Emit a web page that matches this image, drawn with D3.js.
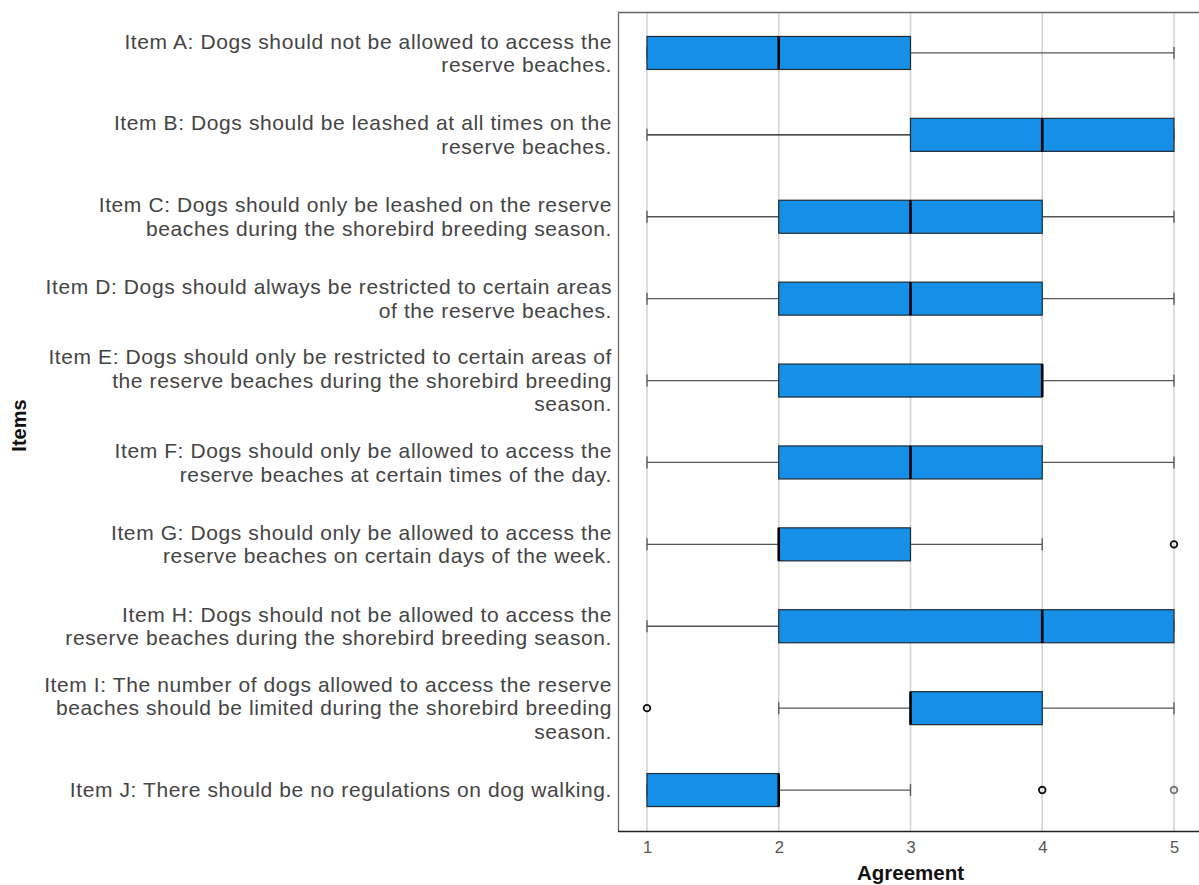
<!DOCTYPE html>
<html><head><meta charset="utf-8">
<script src="https://cdn.jsdelivr.net/npm/d3@7"></script>
<style>body{margin:0;background:#fff}svg{display:block}</style>
</head><body>
<script>
const items = [
  ["Item A: Dogs should not be allowed to access the","reserve beaches."],
  ["Item B: Dogs should be leashed at all times on the","reserve beaches."],
  ["Item C: Dogs should only be leashed on the reserve","beaches during the shorebird breeding season."],
  ["Item D: Dogs should always be restricted to certain areas","of the reserve beaches."],
  ["Item E: Dogs should only be restricted to certain areas of","the reserve beaches during the shorebird breeding","season."],
  ["Item F: Dogs should only be allowed to access the","reserve beaches at certain times of the day."],
  ["Item G: Dogs should only be allowed to access the","reserve beaches on certain days of the week."],
  ["Item H: Dogs should not be allowed to access the","reserve beaches during the shorebird breeding season."],
  ["Item I: The number of dogs allowed to access the reserve","beaches should be limited during the shorebird breeding","season."],
  ["Item J: There should be no regulations on dog walking."]
];
const whiskerLow  = [1,1,1,1,1,1,1,1,2,1];
const q1          = [1,3,2,2,2,2,2,2,3,1];
const medians     = [2,4,3,3,4,3,2,4,3,2];
const q3          = [3,5,4,4,4,4,3,5,4,2];
const whiskerHigh = [5,5,5,5,5,5,4,5,5,3];
const outliers    = [[],[],[],[],[],[],[5],[],[1],[4,5]];
const ticks = [1,2,3,4,5];

const W=1199,H=885;
const pLeft=618, pTop=12, pBottom=831, pRight=1199;
const svg=d3.select("body").append("svg").attr("width",W).attr("height",H);
const x=d3.scaleLinear().domain([0.78,5.5]).range([pLeft, pLeft+(5.5-0.78)*131.75]);
const y=d3.scaleBand().domain(d3.range(items.length)).range([pTop,pBottom]);

svg.append("g").selectAll("line").data(ticks).join("line")
  .attr("x1",d=>x(d)).attr("x2",d=>x(d)).attr("y1",pTop).attr("y2",pBottom)
  .attr("stroke","#d4d4d4").attr("stroke-width",1.6);

svg.append("path").attr("d",`M${pRight},${pTop+0.5}H${pLeft+0.5}V${pBottom}`).attr("fill","none").attr("stroke","#666").attr("stroke-width",1.3);
const xAxis=d3.axisBottom(x).tickValues(ticks).tickSize(0).tickPadding(10).tickFormat(d3.format("d"));
const ga=svg.append("g").attr("transform",`translate(0,${pBottom})`).call(xAxis);
ga.select(".domain").attr("d",`M${pLeft},0.5H${pRight}`).attr("stroke","#222").attr("stroke-width",1.5);
ga.selectAll("text").attr("font-family","Liberation Sans, Arial, sans-serif").attr("font-size",16.5).attr("fill","#555");

const bh=33, cap=12;
const g=svg.append("g");
items.forEach((lab,i)=>{
  const cy=y(i)+y.bandwidth()/2;
  const wcol = i===1 ? "#111" : "#555";
  g.append("line").attr("x1",x(whiskerLow[i])).attr("x2",x(q1[i])).attr("y1",cy).attr("y2",cy).attr("stroke",wcol).attr("stroke-width",1.3);
  g.append("line").attr("x1",x(q3[i])).attr("x2",x(whiskerHigh[i])).attr("y1",cy).attr("y2",cy).attr("stroke","#555").attr("stroke-width",1.3);
  [whiskerLow[i],whiskerHigh[i]].forEach(v=>{
    g.append("line").attr("x1",x(v)).attr("x2",x(v)).attr("y1",cy-cap/2).attr("y2",cy+cap/2).attr("stroke","#555").attr("stroke-width",1.3);
  });
  g.append("rect").attr("x",x(q1[i])).attr("y",cy-bh/2).attr("width",x(q3[i])-x(q1[i])).attr("height",bh)
    .attr("fill","#1590e6").attr("stroke","#1f2a33").attr("stroke-width",1.2);
  g.append("line").attr("x1",x(medians[i])).attr("x2",x(medians[i])).attr("y1",cy-bh/2).attr("y2",cy+bh/2).attr("stroke","#000").attr("stroke-width",2.6);
  outliers[i].forEach((v,k)=>{
    g.append("circle").attr("cx",x(v)).attr("cy",cy).attr("r",3.3).attr("fill","none")
      .attr("stroke", (i===9 && k===1) ? "#777" : "#111").attr("stroke-width",1.8);
  });
  const lh=23.5;
  lab.forEach((s,j)=>{
    svg.append("text").attr("text-anchor","end").attr("font-family","Liberation Sans, Arial, sans-serif")
      .attr("font-size",21).attr("letter-spacing","0.6px").attr("fill","#444")
      .attr("x",612).attr("y",cy+7.3+(j-(lab.length-1)/2)*lh).text(s);
  });
});

svg.append("text").attr("x",x(3)).attr("y",880).attr("text-anchor","middle").attr("font-family","Liberation Sans, Arial, sans-serif")
  .attr("font-weight","bold").attr("font-size",20.5).attr("fill","#111").text("Agreement");
svg.append("text").attr("transform",`translate(26,${(pTop+pBottom)/2+4}) rotate(-90)`).attr("text-anchor","middle")
  .attr("font-family","Liberation Sans, Arial, sans-serif").attr("font-weight","bold").attr("font-size",20).attr("fill","#111").text("Items");
</script>
</body></html>
